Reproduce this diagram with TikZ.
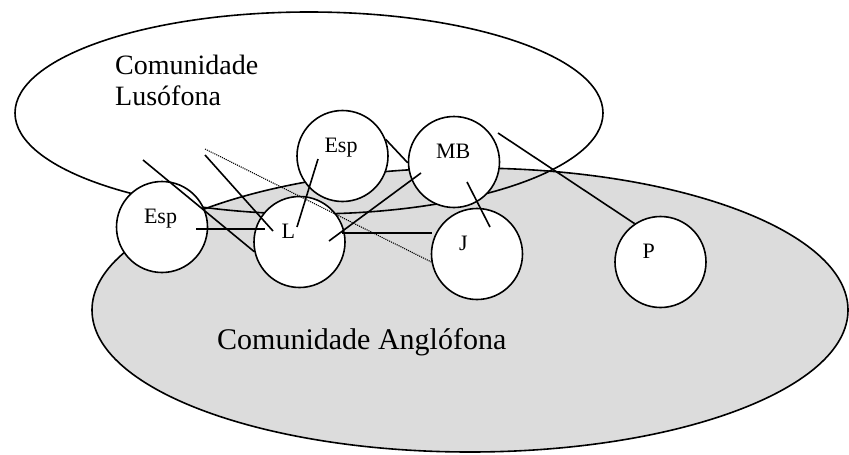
\documentclass[tikz,border=0pt]{standalone}
\usepackage{fontspec}
\setmainfont{Liberation Serif}
\usepackage{tikz}

\definecolor{anglogray}{RGB}{220,220,220}

\begin{document}
\begin{tikzpicture}[
        x=1pt, y=-1pt,
        important line/.style={line width=1.6pt},
        dotted line/.style={densely dotted, line width=1.1pt},
        membro/.style={circle, draw, fill=white, line width=1.6pt, minimum size=91pt, inner sep=0pt,
            text width=36pt, align=left, text height=0pt, text depth=7pt,
            font=\fontsize{22}{26}\selectfont},
        every node/.style={color=black}
    ]
    \useasboundingbox (0,0) rectangle (849,455);
    % comunidades
    \fill[anglogray] (470,310) ellipse [x radius=378, y radius=142];
    \draw[important line] (309,113) ellipse [x radius=294, y radius=101];
    \draw[important line] (470,310) ellipse [x radius=378, y radius=142];
    \node (lus)[anchor=north west, inner sep=0pt, align=left, font=\fontsize{28}{31}\selectfont] at (115,55) {Comunidade\\Lusófona};
    \node (ang)[anchor=base west, inner sep=0pt, font=\fontsize{30}{34}\selectfont] at (217,349) {Comunidade Anglófona};
    % membros
    \node (espA)[membro] at (162,227) {Esp};
    \node (espB)[membro] at (342.5,156) {Esp};
    \node (L)[membro] at (299.5,242) {L};
    \node (MB)[membro] at (454,162) {MB};
    \node (J)[membro] at (477,254) {J};
    \node (P)[membro] at (660.5,262) {P};
    % pontas soltas
    \coordinate (a1) at (143,160);
    \coordinate (a2) at (205,155);
    \coordinate (a3) at (273,231);
    \coordinate (a4) at (205,149);
    \coordinate (a5) at (196,229);
    \coordinate (a6) at (265,229);
    \coordinate (a7) at (297,227);
    \coordinate (a8) at (318,159);
    \coordinate (a9) at (329,241);
    \coordinate (a10) at (421,173);
    \coordinate (a11) at (342,233);
    \coordinate (a12) at (432,233);
    \coordinate (a13) at (467,182);
    \coordinate (a14) at (490,227);
    \coordinate (a15) at (498,133);
    % ligacoes
    \draw[important line] (a1) -- (L.192);
    \draw[important line] (a2) -- (a3);
    \draw[dotted line] (a4) -- (J.190);
    \draw[important line] (a5) -- (a6);
    \draw[important line] (a7) -- (a8);
    \draw[important line] (a9) -- (a10);
    \draw[important line] (a11) -- (a12);
    \draw[important line] (espB.21) -- (MB.181);
    \draw[important line] (a13) -- (a14);
    \draw[important line] (a15) -- (P.124);
\end{tikzpicture}
\end{document}
